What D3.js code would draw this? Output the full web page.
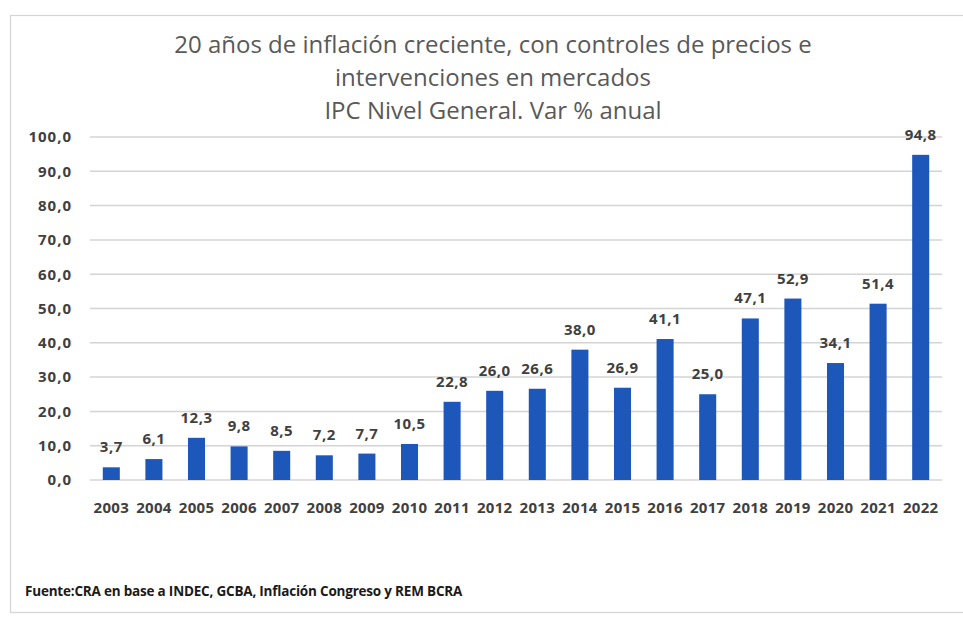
<!DOCTYPE html>
<html>
<head>
<meta charset="utf-8">
<script src="https://cdn.jsdelivr.net/npm/d3@7/dist/d3.min.js"></script>
<style>
  html, body { margin: 0; padding: 0; background: #ffffff; }
  svg { display: block; }
</style>
</head>
<body>
<svg id="chart" width="963" height="617"></svg>
<script>
const years = ["2003","2004","2005","2006","2007","2008","2009","2010","2011","2012","2013","2014","2015","2016","2017","2018","2019","2020","2021","2022"];
const values = [3.7, 6.1, 12.3, 9.8, 8.5, 7.2, 7.7, 10.5, 22.8, 26.0, 26.6, 38.0, 26.9, 41.1, 25.0, 47.1, 52.9, 34.1, 51.4, 94.8];
const yTicks = [0, 10, 20, 30, 40, 50, 60, 70, 80, 90, 100];
const titleLines = [
  "20 años de inflación creciente, con controles de precios e",
  "intervenciones en mercados",
  "IPC Nivel General. Var % anual"
];
const sourceText = "Fuente:CRA en base a INDEC, GCBA, Inflación Congreso y REM BCRA";

const svg = d3.select("#chart");
const plot = { left: 90, right: 942, top: 137, bottom: 480 };

const fmt = v => d3.format(".1f")(v).replace(".", ",");

// outer frame
svg.append("rect")
  .attr("x", 10.5).attr("y", 15.5)
  .attr("width", 962).attr("height", 597)
  .attr("fill", "#ffffff")
  .attr("stroke", "#d4d4d4")
  .attr("stroke-width", 1.2);

const x = d3.scaleBand().domain(years).range([plot.left, plot.right]).paddingInner(0.6).paddingOuter(0.3);
const y = d3.scaleLinear().domain([0, 100]).range([plot.bottom, plot.top]);

// gridlines
svg.append("g")
  .selectAll("line")
  .data(yTicks)
  .join("line")
  .attr("x1", plot.left).attr("x2", plot.right)
  .attr("y1", d => y(d)).attr("y2", d => y(d))
  .attr("stroke", "#d4d4d4")
  .attr("stroke-width", 1.5);

// y axis labels
const yAxis = d3.axisLeft(y).tickValues(yTicks).tickFormat(fmt).tickSize(0).tickPadding(0);
const gy = svg.append("g").attr("transform", `translate(72,0)`).call(yAxis);
gy.select(".domain").remove();
gy.selectAll("text")
  .attr("font-family", "'Open Sans', sans-serif")
  .attr("font-weight", "700")
  .attr("font-size", "15px")
  .attr("letter-spacing", "1px")
  .attr("fill", "#404040");

// x axis labels
const xAxis = d3.axisBottom(x).tickSize(0).tickPadding(0);
const gx = svg.append("g").attr("transform", `translate(0,${plot.bottom})`).call(xAxis);
gx.select(".domain").remove();
gx.selectAll("text")
  .attr("dy", "0")
  .attr("y", 33)
  .attr("font-family", "'Open Sans', sans-serif")
  .attr("font-weight", "700")
  .attr("font-size", "15px")
  .attr("letter-spacing", "0.3px")
  .attr("fill", "#404040");

// bars
svg.append("g")
  .selectAll("rect")
  .data(years.map((yr, i) => ({ yr, v: values[i] })))
  .join("rect")
  .attr("x", d => x(d.yr))
  .attr("y", d => y(d.v))
  .attr("width", x.bandwidth())
  .attr("height", d => y(0) - y(d.v))
  .attr("fill", "#1d57b9");

// value labels
svg.append("g")
  .selectAll("text")
  .data(years.map((yr, i) => ({ yr, v: values[i] })))
  .join("text")
  .attr("x", d => x(d.yr) + x.bandwidth() / 2)
  .attr("y", d => y(d.v) - 15)
  .attr("text-anchor", "middle")
  .attr("font-family", "'Open Sans', sans-serif")
  .attr("font-weight", "700")
  .attr("font-size", "15px")
  .attr("letter-spacing", "0.5px")
  .attr("fill", "#404040")
  .text(d => fmt(d.v));

// title
svg.append("g")
  .selectAll("text")
  .data(titleLines)
  .join("text")
  .attr("x", 493)
  .attr("y", (d, i) => 53 + i * 33)
  .attr("text-anchor", "middle")
  .attr("font-family", "'Open Sans', sans-serif")
  .attr("font-size", "24px")
  .attr("fill", "#595959")
  .text(d => d);

// source
svg.append("text")
  .attr("x", 25)
  .attr("y", 596)
  .attr("font-family", "'Open Sans', sans-serif")
  .attr("font-weight", "700")
  .attr("font-size", "13.5px")
  .attr("letter-spacing", "-0.2px")
  .attr("fill", "#1a1a1a")
  .text(sourceText);
</script>
</body>
</html>
